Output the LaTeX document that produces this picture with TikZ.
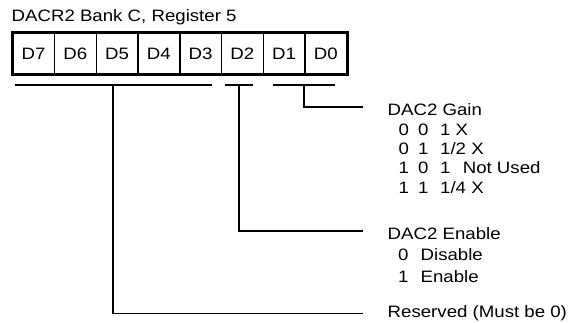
\documentclass[tikz,border=0pt]{standalone}
\usepackage{fontspec}
\setmainfont[FakeStretch=1.13]{Liberation Sans}
\begin{document}
\begin{tikzpicture}[x=1pt,y=-1pt,
  txt/.style={font=\fontsize{16.5}{19.3}\selectfont, inner sep=0pt},
  cell/.style={txt, draw, line width=1.5pt, minimum width=41.75pt, minimum height=40.5pt, anchor=north west},
  frame/.style={line width=2.5pt},
  wire/.style={line width=1.1pt},
  desc/.style={txt, anchor=base west}]
\useasboundingbox[fill=white] (0,0) rectangle (575,323);

% title
\node[desc] (title) at (11.5,21.3) {DACR2 Bank C, Register 5};

% register cells
\foreach \b [count=\k from 0] in {7,6,5,4,3,2,1,0}
  \node[cell] (d\b) at ({12+\k*41.75},32.5) {D\b};
\draw[frame] (d7.north west) rectangle (d0.south east);

% bracket coordinates
\coordinate (ra) at (15,85);
\coordinate (rb) at (212,85);
\coordinate (rm) at (113,85);
\coordinate (ea) at (225,85);
\coordinate (eb) at (253,85);
\coordinate (em) at (239,85);
\coordinate (ga) at (273,85);
\coordinate (gb) at (335,85);
\coordinate (gm) at (304,85);
\coordinate (gend) at (363,107);
\coordinate (eend) at (363,231);
\coordinate (rend) at (363,313.5);

% descriptions
\node[desc] (gain) at (387.5,116) {\begin{tabular}[t]{@{}l@{}}
DAC2 Gain\\
\hspace{11pt}\makebox[19.5pt][l]{0}\makebox[22pt][l]{0}1 X\\
\hspace{11pt}\makebox[19.5pt][l]{0}\makebox[22pt][l]{1}1/2 X\\
\hspace{11pt}\makebox[19.5pt][l]{1}\makebox[22pt][l]{0}\makebox[22.6pt][l]{1}Not Used\\
\hspace{11pt}\makebox[19.5pt][l]{1}\makebox[22pt][l]{1}1/4 X
\end{tabular}};
\node[desc, font=\fontsize{16.5}{21.5}\selectfont] (enable) at (387.5,239) {\begin{tabular}[t]{@{}l@{}}
DAC2 Enable\\
\hspace{10.5pt}\makebox[22.5pt][l]{0}Disable\\
\hspace{10.5pt}\makebox[22.5pt][l]{1}Enable
\end{tabular}};
\node[desc] (reserved) at (387.5,317) {Reserved (Must be 0)};

% brackets and connectors
\draw[wire] (ra) -- (rb);
\draw[wire] (ea) -- (eb);
\draw[wire] (ga) -- (gb);
\draw[wire] (gm) |- (gend);
\draw[wire] (em) |- (eend);
\draw[wire] (rm) |- (rend);
\end{tikzpicture}
\end{document}
